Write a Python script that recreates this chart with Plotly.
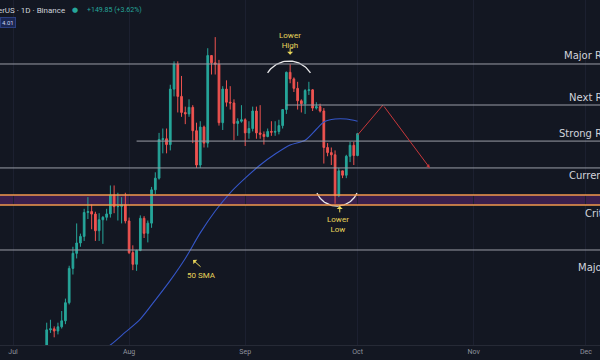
import numpy as np
import pandas as pd
import plotly.graph_objects as go

# ---------------- data (ETH / USDT daily) ----------------
dates = pd.date_range("2025-07-10", "2025-10-01", freq="D")
opens = [2770, 2951, 2958, 2943, 2972, 3013, 3137, 3372, 3475, 3546, 3591, 3755, 3761, 3744, 3630, 3705,
         3722, 3745, 3875, 3795, 3797, 3808,
         3697, 3480, 3400, 3495, 3715, 3612, 3682, 3910, 3990, 4255, 4260, 4220, 4600, 4770, 4550, 4440,
         4430, 4475, 4315, 4080, 4340, 4230, 4830, 4780, 4770, 4370, 4600, 4510, 4505, 4365, 4380,
         4390, 4300, 4330, 4450, 4300, 4290, 4275, 4310, 4305, 4310, 4350, 4460, 4715, 4670, 4605, 4520,
         4500, 4590, 4595, 4470, 4480, 4450, 4200, 4165, 4150, 3870, 4040, 4010, 4140, 4215,
         4145]
highs = [3000, 3020, 2975, 3000, 3080, 3165, 3390, 3520, 3680, 3610, 3780, 3860, 3810, 3760, 3750, 3730,
         3780, 3940, 3940, 3890, 3860, 3890,
         3720, 3530, 3500, 3735, 3730, 3700, 3930, 4030, 4300, 4330, 4330, 4630, 4790, 4790, 4690, 4480,
         4530, 4490, 4370, 4380, 4350, 4880, 4830, 4956, 4800, 4620, 4660, 4620, 4530, 4400, 4490,
         4400, 4380, 4480, 4480, 4490, 4310, 4330, 4380, 4380, 4390, 4460, 4720, 4770, 4680, 4650, 4530,
         4600, 4650, 4600, 4510, 4500, 4470, 4230, 4200, 4180, 4060, 4040, 4150, 4240, 4240,
         4300]
lows = [2760, 2930, 2900, 2920, 2960, 2990, 3125, 3330, 3440, 3520, 3560, 3710, 3640, 3560, 3560, 3540,
        3700, 3720, 3750, 3700, 3680, 3680,
        3470, 3360, 3355, 3490, 3580, 3550, 3650, 3880, 3980, 4160, 4160, 4180, 4550, 4440, 4410, 4360,
        4410, 4230, 4060, 4060, 4200, 4200, 4700, 4700, 4350, 4320, 4480, 4460, 4250, 4280, 4370,
        4210, 4260, 4310, 4260, 4260, 4220, 4270, 4280, 4280, 4290, 4330, 4430, 4640, 4580, 4460, 4440,
        4430, 4560, 4450, 4460, 4440, 4090, 4140, 4080, 3815, 3860, 3990, 3990, 4100, 4080,
        4140]
closes = [2951, 2958, 2943, 2972, 3013, 3137, 3372, 3475, 3546, 3591, 3755, 3761, 3744, 3630, 3705, 3722,
          3745, 3875, 3795, 3797, 3808, 3697,
          3480, 3400, 3495, 3715, 3612, 3682, 3910, 3990, 4255, 4260, 4220, 4600, 4770, 4550, 4440, 4430,
          4475, 4315, 4080, 4340, 4230, 4830, 4780, 4770, 4370, 4600, 4510, 4505, 4365, 4380, 4390,
          4300, 4330, 4450, 4300, 4290, 4275, 4310, 4305, 4310, 4350, 4460, 4715, 4670, 4605, 4520, 4500,
          4590, 4595, 4470, 4480, 4450, 4200, 4165, 4150, 3870, 4040, 4010, 4140, 4215, 4145,
          4295]

# 50-day SMA as drawn on the chart
sma_dates = ["2025-07-24", "2025-07-27", "2025-07-31", "2025-08-04", "2025-08-08", "2025-08-12",
             "2025-08-16", "2025-08-20", "2025-08-24", "2025-08-28", "2025-09-01", "2025-09-05",
             "2025-09-09", "2025-09-13", "2025-09-17", "2025-09-20", "2025-09-22", "2025-09-25",
             "2025-09-28", "2025-10-01"]
sma_values = [2800, 2847, 2935, 3025, 3155, 3290, 3440, 3615, 3765, 3890, 3990, 4080, 4155, 4217,
              4250, 4325, 4375, 4395, 4395, 4380]

# horizontal levels
level_names = ["Major Resistance", "Next Resistance", "Strong Resistance", "Current Support", "Major Support"]
level_prices = [4772, 4491, 4244, 4060, 3498]
level_starts = [None, "2025-09-12", "2025-08-03", None, None]
critical_zone = [3806, 3874]

# projected path
proj_dates = ["2025-10-01", "2025-10-07 19:00", "2025-10-20 07:00"]
proj_prices = [4285, 4491, 4060]

month_ticks = ["2025-07-01", "2025-08-01", "2025-09-01", "2025-10-01", "2025-11-01", "2025-12-01"]
month_labels = ["Jul", "Aug", "Sep", "Oct", "Nov", "Dec"]

# ---------------- layout geometry ----------------
W, H = 600, 360
MB = 15
PLOT_H = H - MB
PX_PER_DAY = 3.745
PX_PER_PRICE = 0.146
origin = pd.Timestamp("2025-07-01")
x_start = origin - pd.Timedelta(days=13 / PX_PER_DAY)
x_end = origin + pd.Timedelta(days=(W - 13) / PX_PER_DAY)
y_top = 760.7 / PX_PER_PRICE
y_bot = (760.7 - PLOT_H) / PX_PER_PRICE

BG = "#131722"
GREEN = "#26a69a"
RED = "#ef5350"
YELLOW = "#e8d55a"
LABEL = "#d1d4dc"
LINE = "#9a9da6"

fig = go.Figure()

fig.add_trace(go.Candlestick(
    x=dates, open=opens, high=highs, low=lows, close=closes,
    increasing=dict(fillcolor=GREEN, line=dict(color=GREEN, width=1)),
    decreasing=dict(fillcolor=RED, line=dict(color=RED, width=1)),
    whiskerwidth=0, showlegend=False, hoverinfo="skip",
))

fig.add_trace(go.Scatter(
    x=sma_dates, y=sma_values, mode="lines",
    line=dict(color="#3556c8", width=1.1, shape="spline", smoothing=0.8),
    showlegend=False, hoverinfo="skip",
))


def arc(center_date, center_price, r_px, a0, a1, n=40):
    t = np.radians(np.linspace(a0, a1, n))
    c = pd.Timestamp(center_date)
    xs = [c + pd.Timedelta(days=float(r_px * np.cos(a) / PX_PER_DAY)) for a in t]
    ys = center_price + r_px * np.sin(t) / PX_PER_PRICE
    return xs, ys


for cd, cp, r, a0, a1 in [("2025-09-12 17:00", 4619, 25.3, 32, 148),
                          ("2025-09-25 12:00", 3949, 21.9, -156, -24)]:
    ax_, ay_ = arc(cd, cp, r, a0, a1)
    fig.add_trace(go.Scatter(x=ax_, y=ay_, mode="lines", line=dict(color="#e8e8ea", width=1.3),
                             showlegend=False, hoverinfo="skip"))

# projection: first leg as a line, second leg as an arrow
fig.add_trace(go.Scatter(x=proj_dates[:2], y=proj_prices[:2], mode="lines",
                         line=dict(color="#c8373a", width=1), showlegend=False, hoverinfo="skip"))

shapes = []
# critical band
shapes.append(dict(type="rect", xref="paper", yref="y", x0=0, x1=1,
                   y0=critical_zone[0], y1=critical_zone[1],
                   fillcolor="#3a1f4c", line=dict(width=0), layer="below"))
for yv in critical_zone:
    shapes.append(dict(type="line", xref="paper", yref="y", x0=0, x1=1, y0=yv, y1=yv,
                       line=dict(color="#f39a4c", width=1.5)))
for name, p, s in zip(level_names, level_prices, level_starts):
    if s is None:
        shapes.append(dict(type="line", xref="paper", yref="y", x0=0, x1=1, y0=p, y1=p,
                           line=dict(color=LINE, width=1)))
    else:
        shapes.append(dict(type="line", xref="x", yref="y", x0=s, x1=x_end, y0=p, y1=p,
                           line=dict(color=LINE, width=1)))

LABEL_RIGHT = 651 / W
annotations = []
shifts = [8, 8, 8, -8, -18]
for name, p, sh in zip(level_names, level_prices, shifts):
    annotations.append(dict(x=LABEL_RIGHT, xref="paper", y=p, yref="y", yshift=sh, text=name,
                            xanchor="right", yanchor="middle", showarrow=False,
                            font=dict(family="DejaVu Sans", size=10, color=LABEL)))
annotations.append(dict(x=LABEL_RIGHT, xref="paper", y=critical_zone[0], yref="y", yshift=-8,
                        text="Critical Zone", xanchor="right", yanchor="middle", showarrow=False,
                        font=dict(family="DejaVu Sans", size=10, color=LABEL)))

yfont = dict(family="Roboto", size=8, color=YELLOW)
annotations += [
    dict(x="2025-09-13", y=4930, xref="x", yref="y", text="Lower<br>High", showarrow=False,
         font=yfont, xanchor="center", yanchor="middle"),
    dict(x="2025-09-13", y=4835, xref="x", yref="y", text="", showarrow=True,
         ax=0, ay=-8, arrowhead=1, arrowsize=1, arrowwidth=1, arrowcolor=YELLOW),
    dict(x="2025-09-25 18:00", y=3675, xref="x", yref="y", text="Lower<br>Low", showarrow=False,
         font=yfont, xanchor="center", yanchor="middle"),
    dict(x="2025-09-26 06:00", y=3800, xref="x", yref="y", text="", showarrow=True,
         ax=0, ay=8, arrowhead=1, arrowsize=1, arrowwidth=1, arrowcolor=YELLOW),
    dict(x="2025-08-20 05:00", y=3320, xref="x", yref="y", text="50 SMA", showarrow=False,
         font=yfont, xanchor="center", yanchor="middle"),
    dict(x="2025-08-18 02:00", y=3429, xref="x", yref="y", text="", showarrow=True,
         ax=9, ay=8, arrowhead=1, arrowsize=1, arrowwidth=1, arrowcolor=YELLOW),
    dict(x=proj_dates[2], y=proj_prices[2], xref="x", yref="y", text="", showarrow=True,
         axref="x", ayref="y", ax=proj_dates[1], ay=proj_prices[1],
         arrowhead=2, arrowsize=0.7, arrowwidth=1, arrowcolor="#c8373a"),
    # header
    dict(x=67 / W, y=1 - 10 / PLOT_H, xref="paper", yref="paper",
         text="Ethereum / TetherUS · 1D · Binance", showarrow=False, xanchor="right", yanchor="middle",
         font=dict(family="Roboto", size=8, color=LABEL)),
    dict(x=75 / W, y=1 - 10 / PLOT_H, xref="paper", yref="paper", text="●", showarrow=False,
         xanchor="center", yanchor="middle", font=dict(family="DejaVu Sans", size=7, color=GREEN)),
    dict(x=85 / W, y=1 - 10 / PLOT_H, xref="paper", yref="paper", text="+149.85 (+3.62%)",
         showarrow=False, xanchor="left", yanchor="middle",
         font=dict(family="Roboto", size=7, color=GREEN)),
    dict(x=0, y=1 - 22 / PLOT_H, xref="paper", yref="paper", text="4.01", showarrow=False,
         xanchor="left", yanchor="middle", bgcolor="#1b2752", bordercolor="#2b3f80", borderwidth=1,
         borderpad=1, font=dict(family="Roboto", size=6, color="#c9d2f0")),
]

fig.update_layout(
    width=W, height=H,
    margin=dict(l=0, r=0, t=0, b=MB),
    paper_bgcolor=BG, plot_bgcolor=BG,
    boxgap=0.35,
    shapes=shapes, annotations=annotations,
    showlegend=False,
    xaxis=dict(type="date", range=[x_start, x_end], rangeslider=dict(visible=False),
               tickvals=month_ticks, ticktext=month_labels, ticks="",
               tickfont=dict(family="Roboto", size=7, color="#8f939e"),
               showgrid=True, gridcolor="#1c2030", gridwidth=1, zeroline=False,
               showline=True, linecolor="#262a36", linewidth=1),
    yaxis=dict(range=[y_bot, y_top], visible=False, showgrid=False, zeroline=False, fixedrange=True),
)

fig.write_html("out.html", config={"displayModeBar": False},
               post_script="document.body.style.margin='0';document.body.style.overflow='hidden';"
                           "document.documentElement.style.overflow='hidden';")
